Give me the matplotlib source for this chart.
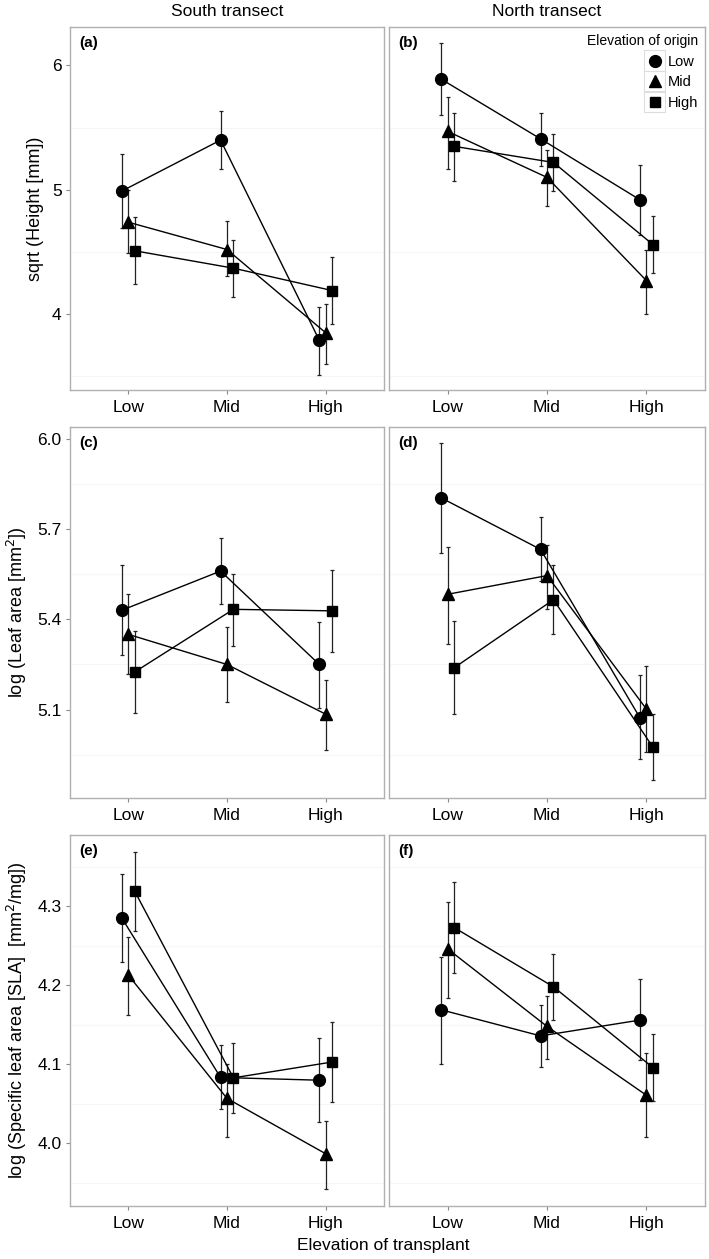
import numpy as np
import matplotlib
matplotlib.use("Agg")
import matplotlib.pyplot as plt
from matplotlib.patches import Rectangle

plt.rcParams['font.family'] = ['Liberation Sans', 'DejaVu Sans']

# transplant sites (x) and origins (series)
sites = ['Low', 'Mid', 'High']
origins = ['Low', 'Mid', 'High']
markers = ['o', '^', 's']
dodge = [-0.065, 0.0, 0.065]

# panel (a) South, height
a_mean = [[4.99, 5.40, 3.79], [4.74, 4.52, 3.85], [4.51, 4.37, 4.19]]
a_lo = [[4.69, 5.17, 3.51], [4.49, 4.31, 3.60], [4.24, 4.14, 3.92]]
a_hi = [[5.29, 5.63, 4.06], [5.00, 4.75, 4.08], [4.78, 4.60, 4.46]]
# panel (b) North, height
b_mean = [[5.89, 5.41, 4.92], [5.47, 5.10, 4.27], [5.35, 5.22, 4.56]]
b_lo = [[5.60, 5.19, 4.64], [5.17, 4.87, 4.00], [5.07, 4.99, 4.33]]
b_hi = [[6.18, 5.62, 5.20], [5.75, 5.32, 4.52], [5.62, 5.45, 4.79]]
# panel (c) South, leaf area
c_mean = [[5.43, 5.56, 5.25], [5.35, 5.25, 5.085], [5.225, 5.433, 5.428]]
c_lo = [[5.28, 5.45, 5.107], [5.22, 5.125, 4.965], [5.09, 5.31, 5.29]]
c_hi = [[5.58, 5.67, 5.39], [5.485, 5.375, 5.20], [5.36, 5.55, 5.565]]
# panel (d) North, leaf area
d_mean = [[5.803, 5.632, 5.073], [5.483, 5.545, 5.102], [5.239, 5.465, 4.976]]
d_lo = [[5.621, 5.527, 4.935], [5.317, 5.435, 4.958], [5.084, 5.35, 4.865]]
d_hi = [[5.986, 5.738, 5.214], [5.641, 5.648, 5.244], [5.394, 5.579, 5.087]]
# panel (e) South, SLA
e_mean = [[4.285, 4.0835, 4.080], [4.213, 4.057, 3.987], [4.319, 4.083, 4.103]]
e_lo = [[4.229, 4.043, 4.027], [4.162, 4.008, 3.942], [4.269, 4.038, 4.052]]
e_hi = [[4.341, 4.124, 4.133], [4.261, 4.100, 4.029], [4.369, 4.127, 4.154]]
# panel (f) North, SLA
f_mean = [[4.169, 4.136, 4.156], [4.246, 4.148, 4.061], [4.273, 4.198, 4.096]]
f_lo = [[4.101, 4.097, 4.105], [4.184, 4.107, 4.008], [4.216, 4.156, 4.054]]
f_hi = [[4.236, 4.175, 4.208], [4.305, 4.186, 4.114], [4.330, 4.240, 4.138]]

panels = [
    ('(a)', a_mean, a_lo, a_hi), ('(b)', b_mean, b_lo, b_hi),
    ('(c)', c_mean, c_lo, c_hi), ('(d)', d_mean, d_lo, d_hi),
    ('(e)', e_mean, e_lo, e_hi), ('(f)', f_mean, f_lo, f_hi),
]

row_ylim = [(3.39, 6.31), (4.807, 6.038), (3.921, 4.390)]
row_major = [[4, 5, 6], [5.1, 5.4, 5.7, 6.0], [4.0, 4.1, 4.2, 4.3]]
row_minor = [[3.5, 4.5, 5.5], [4.95, 5.25, 5.55, 5.85], [3.95, 4.05, 4.15, 4.25, 4.35]]
row_fmt = ['{:.0f}', '{:.1f}', '{:.1f}']
ylabels = ['sqrt (Height [mm])', 'log (Leaf area [mm$^{2}$])',
           'log (Specific leaf area [SLA]  [mm$^{2}$/mg])']

fig = plt.figure(figsize=(7.09, 12.59), dpi=100)
col_x = [(0.0987, 0.5416), (0.5487, 0.9944)]
row_y = [(0.6902, 0.9786), (0.3662, 0.6608), (0.0421, 0.3368)]

border = '#b0b0b0'
axes = []
for i, (lab, mean, lo, hi) in enumerate(panels):
    r, c = divmod(i, 2)
    x0, x1 = col_x[c]
    y0, y1 = row_y[r]
    ax = fig.add_axes([x0, y0, x1 - x0, y1 - y0])
    axes.append(ax)
    for s in range(3):
        xs = np.arange(1, 4) + dodge[s]
        m = np.array(mean[s])
        yerr = [m - np.array(lo[s]), np.array(hi[s]) - m]
        ax.errorbar(xs, m, yerr=yerr, fmt='none', ecolor='#222222',
                    elinewidth=0.9, capsize=1.6, capthick=0.9, zorder=2)
        ax.plot(xs, m, color='black', lw=1.0, marker=markers[s],
                ms=8.5 if markers[s] != 's' else 7.5, mfc='black', mec='black',
                label=origins[s], zorder=3)
    ax.set_xlim(0.41, 3.59)
    ax.set_ylim(*row_ylim[r])
    ax.set_xticks([1, 2, 3])
    ax.set_xticklabels(sites, fontsize=12.5)
    ax.set_yticks(row_major[r])
    ax.set_yticks(row_minor[r], minor=True)
    ax.grid(False)
    for v in row_minor[r]:
        ax.axhline(v, color='#f6f6f6', lw=0.8, zorder=0)
    if c == 0:
        ax.set_yticklabels([row_fmt[r].format(v) for v in row_major[r]], fontsize=12.5)
        ax.set_ylabel(ylabels[r], fontsize=13, labelpad=6)
        ax.tick_params(axis='y', which='major', length=3, color='#888888', pad=3)
    else:
        ax.tick_params(axis='y', which='major', length=0, labelleft=False)
    ax.tick_params(axis='y', which='minor', length=0)
    ax.tick_params(axis='x', length=3, color='#888888', pad=4)
    for sp in ax.spines.values():
        sp.set_color(border)
        sp.set_linewidth(1.0)
    ax.text(0.03, 0.975, lab, transform=ax.transAxes, fontsize=11,
            fontweight='bold', va='top', ha='left')

axes[0].set_title('South transect', fontsize=12.5, pad=8)
axes[1].set_title('North transect', fontsize=12.5, pad=8)
fig.text(0.54, 0.011, 'Elevation of transplant', ha='center', va='center', fontsize=12.5)

leg = axes[1].legend(title='Elevation of origin', loc='upper right', frameon=False,
                     fontsize=10.5, title_fontsize=10, handlelength=1.0,
                     handletextpad=0.35, labelspacing=0.45, borderaxespad=0.1,
                     alignment='right', markerscale=1.0)
for h in leg.legend_handles:
    h.set_linestyle('none')

# grey boxes round the legend keys
fig.canvas.draw()
for h in leg.legend_handles:
    bb = h.get_window_extent(fig.canvas.get_renderer())
    cx, cy = (bb.x0 + bb.x1) / 2, (bb.y0 + bb.y1) / 2
    sz = 21
    rect = Rectangle((cx - sz / 2, cy - sz / 2), sz, sz, transform=None,
                     fill=False, edgecolor='#dddddd', lw=0.8, zorder=5)
    fig.patches.append(rect)

fig.savefig('out.png', dpi=100)
